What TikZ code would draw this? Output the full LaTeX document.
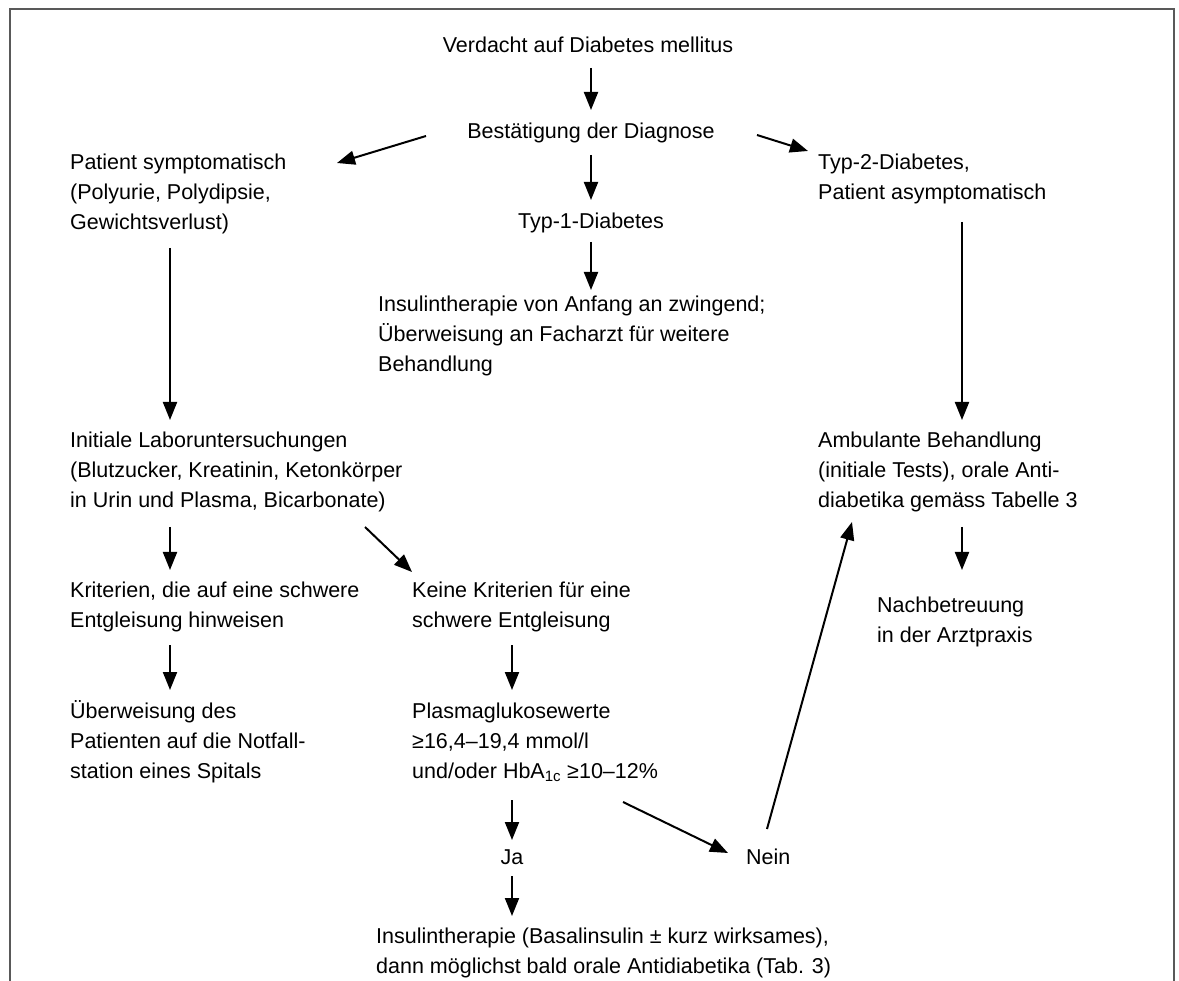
\documentclass[tikz,border=0pt]{standalone}
\usepackage{fontspec}
\setmainfont{Liberation Sans}
\usetikzlibrary{arrows.meta,calc}
\tikzset{
  txt/.style={inner sep=0pt, anchor=base west, align=left, text=black, font=\fontsize{21.5}{30}\selectfont},
  mid/.style={inner sep=0pt, anchor=base, text=black, font=\fontsize{21.5}{30}\selectfont},
  arr/.style={line width=2pt, -{Triangle[length=18pt,width=14pt]}},
}
\begin{document}
\begin{tikzpicture}[x=1pt,y=-1pt]
  \useasboundingbox (0,0) rectangle (1179,981);
  \draw[line width=1.6pt,black!65] (10,981) -- (10,9) -- (1174,9) -- (1174,981);

  \node[mid] (verdacht) at (588,53) {Verdacht auf Diabetes mellitus};
  \node[mid] (best) at (591,139) {Bestätigung der Diagnose};
  \node[mid] (typ1) at (591,229) {Typ-1-Diabetes};
  \node[txt] (insulin1) at (378,372) {Insulintherapie von Anfang an zwingend;\\Überweisung an Facharzt für weitere\\Behandlung};
  \node[txt] (patient) at (70,230) {Patient symptomatisch\\(Polyurie, Polydipsie,\\Gewichtsverlust)};
  \node[txt] (typ2) at (818,200) {Typ-2-Diabetes,\\Patient asymptomatisch};
  \node[txt] (labor) at (70,508) {Initiale Laboruntersuchungen\\(Blutzucker, Kreatinin, Ketonkörper\\in Urin und Plasma, Bicarbonate)};
  \node[txt] (ambulant) at (818,508) {Ambulante Behandlung\\(initiale Tests), orale Anti-\\diabetika gemäss Tabelle 3};
  \node[txt] (kriterien) at (70,627) {Kriterien, die auf eine schwere\\Entgleisung hinweisen};
  \node[txt] (keine) at (412,627) {Keine Kriterien für eine\\schwere Entgleisung};
  \node[txt] (nachbetr) at (877,642) {Nachbetreuung\\in der Arztpraxis};
  \node[txt] (notfall) at (70,778) {Überweisung des\\Patienten auf die Notfall-\\station eines Spitals};
  \node[txt] (plasma) at (412,778) {Plasmaglukosewerte\\≥16,4–19,4 mmol/l\\und/oder HbA\textsubscript{1c} ≥10–12\%};
  \node[mid] (ja) at (512,864) {Ja};
  \node[txt] (nein) at (746,864) {Nein};
  \node[txt] (insulin2) at (376,973) {Insulintherapie (Basalinsulin ± kurz wirksames),\\dann möglichst bald orale Antidiabetika (Tab. 3)};

  \draw[arr] ($(verdacht.base -| best.base)+(0,15)$) -- ($(best.base)+(0,-29)$);
  \draw[arr] ($(best.base)+(0,16)$) -- ($(typ1.base)+(0,-29)$);
  \draw[arr] ($(typ1.base)+(0,13)$) -- ($(insulin1.base west)+(213,-82)$);
  \draw[arr] ($(best.base)+(-165,-3)$) -- ($(patient.base west)+(267,-67)$);
  \draw[arr] ($(best.base)+(166,-4)$) -- ($(typ2.base west)+(-10,-49)$);
  \draw[arr] ($(patient.base west)+(100,18)$) -- ($(labor.base west)+(100,-88)$);
  \draw[arr] ($(typ2.base west)+(144,22)$) -- ($(ambulant.base west)+(144,-88)$);
  \draw[arr] ($(labor.base west)+(100,19)$) -- ($(kriterien.base west)+(100,-57)$);
  \draw[arr] ($(labor.base west)+(295,19)$) -- ($(keine.base west)+(0,-55)$);
  \draw[arr] ($(ambulant.base west)+(144,19)$) -- ($(nachbetr.base west)+(85,-72)$);
  \draw[arr] ($(kriterien.base west)+(100,18)$) -- ($(notfall.base west)+(100,-88)$);
  \draw[arr] ($(keine.base west)+(100,18)$) -- ($(plasma.base west)+(100,-88)$);
  \draw[arr] ($(plasma.base west)+(100,22)$) -- ($(ja.base)+(0,-24)$);
  \draw[arr] ($(ja.base)+(0,12)$) -- ($(insulin2.base west)+(136,-57)$);
  \draw[arr] ($(plasma.base west)+(211,24)$) -- ($(nein.base west)+(-18,-11)$);
  \draw[arr] ($(nein.base west)+(21,-35)$) -- ($(ambulant.base west)+(34,14)$);
\end{tikzpicture}
\end{document}
